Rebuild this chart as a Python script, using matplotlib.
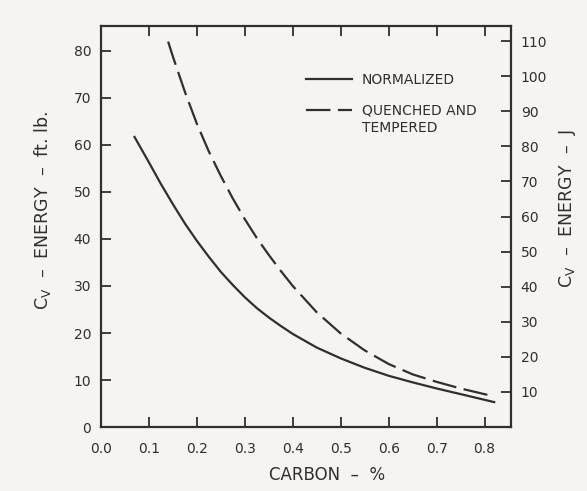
import numpy as np
import matplotlib
matplotlib.use("Agg")
import matplotlib.pyplot as plt

# carbon content (%) and Charpy V-notch energy (ft-lb)
norm_c = [0.07, 0.085, 0.10, 0.125, 0.15, 0.175, 0.20, 0.225, 0.25, 0.275, 0.30, 0.325,
          0.35, 0.375, 0.40, 0.45, 0.50, 0.55, 0.60, 0.65, 0.70, 0.75, 0.82]
norm_e = [61.7, 59.0, 56.3, 51.7, 47.4, 43.3, 39.6, 36.2, 33.0, 30.2, 27.6, 25.3,
          23.3, 21.5, 19.8, 16.9, 14.6, 12.6, 10.9, 9.5, 8.2, 7.0, 5.3]
qt_c = [0.14, 0.15, 0.175, 0.20, 0.225, 0.25, 0.275, 0.30, 0.325, 0.35, 0.375, 0.40,
        0.45, 0.50, 0.55, 0.60, 0.65, 0.70, 0.75, 0.82]
qt_e = [82.0, 78.8, 71.3, 64.5, 58.6, 53.4, 48.6, 44.2, 40.2, 36.6, 33.2, 30.0,
        24.4, 19.9, 16.3, 13.4, 11.2, 9.6, 8.2, 6.5]

x_ticks = [0.0, 0.1, 0.2, 0.3, 0.4, 0.5, 0.6, 0.7, 0.8]
ft_ticks = [0, 10, 20, 30, 40, 50, 60, 70, 80]
j_ticks = [10, 20, 30, 40, 50, 60, 70, 80, 90, 100, 110]
j_per_ftlb = 1.34  # scale as drawn on the chart

ink = "#2f2f2f"
paper = "#f6f4f0"
plt.rcParams["font.family"] = ["DejaVu Sans"]

fig = plt.figure(figsize=(5.87, 4.91), dpi=100, facecolor=paper)
ax = fig.add_axes([0.172, 0.1303, 0.6985, 0.8167], facecolor=paper)

ax.plot(norm_c, norm_e, color=ink, lw=1.6, label="NORMALIZED")
ax.plot(qt_c, qt_e, color=ink, lw=1.6, dashes=(11, 3.4), label="QUENCHED AND")

ax.set_xlim(0, 0.855)
ax.set_ylim(0, 85.3)
ax.set_xticks(x_ticks)
ax.set_xticklabels([f"{v:.1f}" for v in x_ticks])
ax.set_yticks(ft_ticks)
ax.tick_params(axis="both", direction="in", length=7, width=1.3, color=ink,
               labelsize=10, labelcolor=ink, pad=7)
ax.tick_params(axis="x", top=True, pad=11)
for s in ax.spines.values():
    s.set_linewidth(1.6)
    s.set_color(ink)

ax.set_xlabel("CARBON  –  %", fontsize=12, color=ink)
ax.xaxis.set_label_coords(0.551, -0.097)
ax.set_ylabel(r"$\mathregular{C_V}$  –  ENERGY  –  ft. lb.", fontsize=12.5, color=ink)
ax.yaxis.set_label_coords(-0.117, 0.54)

ax2 = ax.twinx()
ax2.set_ylim(0, 85.3 * j_per_ftlb)
ax2.set_yticks(j_ticks)
ax2.tick_params(axis="y", direction="in", length=7, width=1.3, color=ink,
                labelsize=10, labelcolor=ink, pad=7)
for s in ax2.spines.values():
    s.set_visible(False)
ax2.set_ylabel(r"$\mathregular{C_V}$  –  ENERGY  –  J", fontsize=12.5, color=ink)
ax2.yaxis.set_label_coords(1.113, 0.546)

leg = ax.legend(loc="upper left", bbox_to_anchor=(0.5, 0.883), frameon=False,
                fontsize=10, handlelength=3.3, handletextpad=0.7, labelspacing=1.2,
                borderpad=0, borderaxespad=0)
for t in leg.get_texts():
    t.set_color(ink)
# second line of the quenched-and-tempered label, hung under the first
ax.annotate("TEMPERED", xy=(0, 0), xycoords=leg.get_texts()[1],
            xytext=(0, -2.5), textcoords="offset points", ha="left", va="top",
            fontsize=10, color=ink, zorder=10)

fig.savefig("out.png", dpi=100, facecolor=paper)
